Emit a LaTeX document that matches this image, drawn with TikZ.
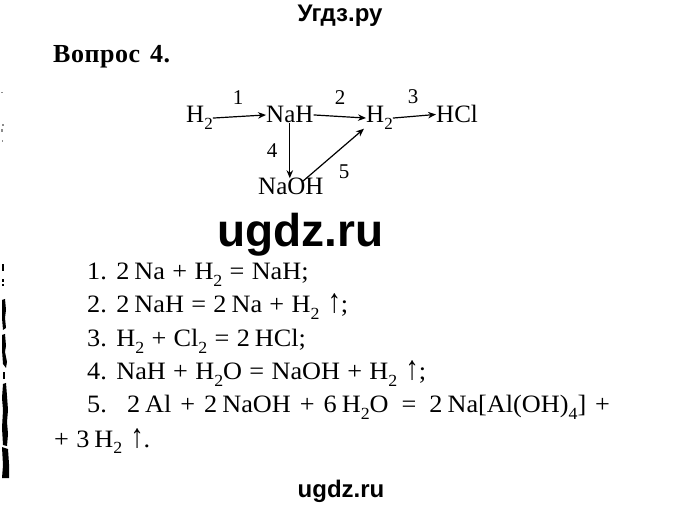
\documentclass[tikz,border=0pt]{standalone}
\usepackage{graphicx}
\usepackage{fontspec}
\setmainfont{Liberation Serif}
\setsansfont{Liberation Sans}
\newfontfamily\titlefont[LetterSpace=2]{Liberation Serif}
\newfontfamily\eqfont[FakeStretch=1.05]{Liberation Serif}
\newcommand{\chemsub}[1]{\raisebox{-6.5pt}{\fontsize{17}{17}\selectfont #1}}
\newcommand{\gasup}{\hspace{1pt}\scalebox{1}[1.35]{↑}}
\newcommand{\tsp}{\hspace{5pt}}
\newcommand{\wide}{\eqfont\fontsize{25}{25}\selectfont\spaceskip=7.3pt\relax}
\newcommand{\wider}{\eqfont\fontsize{25}{25}\selectfont\spaceskip=9pt\relax}
\newcommand{\titlewide}{\spaceskip=10pt\relax}
\usetikzlibrary{arrows.meta,calc}
\tikzset{
  x=1pt,y=-1pt,
  formula/.style={anchor=base west,inner sep=0pt,font=\fontsize{25}{25}\selectfont},
  num/.style={anchor=center,inner sep=0pt,font=\fontsize{21}{21}\selectfont},
  eqn/.style={anchor=base west,inner sep=0pt},
  link/.style={draw=black,line width=1.2pt,-{Stealth[length=8pt,width=6.5pt]}},
  noise/.style={fill=black,draw=none},
  speck/.style={fill=black!45,draw=none}
}
\begin{document}
\begin{tikzpicture}
\useasboundingbox (0,0) rectangle (680,510);
\fill[white] (0,0) rectangle (680,510);
\node[anchor=base,inner sep=0pt,font=\sffamily\bfseries\fontsize{24}{24}\selectfont] (site) at (340,22) {Угдз.ру};
\node[anchor=base west,inner sep=0pt] (title) at (53,63) {\titlefont\bfseries\fontsize{26}{26}\selectfont\titlewide Вопрос 4.};
\node[formula] (a) at (186,123) {H\chemsub{2}};
\node[formula] (b) at (266,123) {NaH};
\node[formula] (c) at (366,123) {H\chemsub{2}};
\node[formula] (d) at (436,123) {HCl};
\node[formula] (e) at (258,195) {NaOH};
\node[num] (n1) at (238,98) {1};
\node[num] (n2) at (340,98) {2};
\node[num] (n3) at (413,97) {3};
\node[num] (n4) at (272,151) {4};
\node[num] (n5) at (344,172) {5};
\draw[link] (a.east) -- (b.west);
\draw[link] (b.east) -- (c.west);
\draw[link] (c.east) -- (d.west);
\draw[link] (b.south) -- (b.south|-e.north);
\draw[link] ($(e.north)+(12,3)$) -- ($(c.south west)+(-2,-1)$);
\node[anchor=base,inner sep=0pt,font=\sffamily\bfseries\fontsize{46}{46}\selectfont] (wm) at (300.5,247) {ugdz.ru};
\node[eqn] (e1) at (87,280) {\wide 1. 2\tsp Na + H\chemsub{2} = NaH;};
\node[eqn] (e2) at (87,313) {\wide 2. 2\tsp NaH = 2\tsp Na + H\chemsub{2} \gasup;};
\node[eqn] (e3) at (87,347) {\wide 3. H\chemsub{2} + Cl\chemsub{2} = 2\tsp HCl;};
\node[eqn] (e4) at (87,380) {\wide 4. NaH + H\chemsub{2}O = NaOH + H\chemsub{2} \gasup;};
\node[eqn] (e5) at (87,413) {\wider 5.\hspace{9pt} 2\tsp Al + 2\tsp NaOH + 6\tsp H\chemsub{2}O\hspace{4pt} = \hspace{4pt}2\tsp Na[Al(OH)\chemsub{4}] +};
\node[eqn] (e6) at (54,447) {\wide + 3\tsp H\chemsub{2} \gasup.};
\node[anchor=base,inner sep=0pt,font=\sffamily\bfseries\fontsize{24}{24}\selectfont] (foot) at (341,497) {ugdz.ru};
% scan noise along the left edge
\fill[noise] (2,300) -- (5,299) -- (6,310) -- (5,318) -- (6,328) -- (3,330) -- (2,318) -- cycle;
\fill[noise] (2,335) -- (5,334) -- (6,346) -- (5,352) -- (7,362) -- (6,368) -- (3,364) -- (2,350) -- cycle;
\fill[noise] (3,372) -- (5,372) -- (5,379) -- (3,379) -- cycle;
\fill[noise] (3,384) -- (6,383) -- (7,396) -- (8,410) -- (7,422) -- (8,434) -- (7,446) -- (3,445) -- (2,428) -- (3,410) -- (2,398) -- cycle;
\fill[noise] (2,447) -- (8,449) -- (9,464) -- (9,478) -- (2,478) -- (3,465) -- cycle;
\fill[noise] (2,264) rectangle (3.5,271);
\fill[noise] (2,279) rectangle (3.5,282);
\fill[noise] (2,284) rectangle (3.5,286);
\fill[speck] (1,92) rectangle (2.5,93.5);
\fill[speck] (2,124) rectangle (3.5,126);
\fill[speck] (1,129) rectangle (3,132);
\fill[speck] (2,140) rectangle (3,142);
\end{tikzpicture}
\end{document}
